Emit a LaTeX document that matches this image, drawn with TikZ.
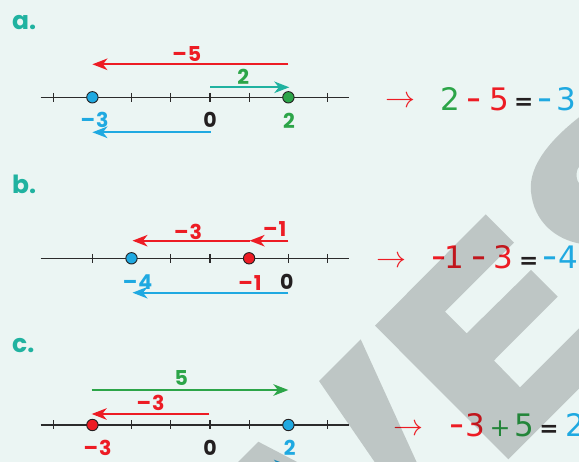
\documentclass[tikz,border=0pt]{standalone}
\usepackage{fontspec}
\usetikzlibrary{arrows.meta}
\newfontfamily\lblfont{Poppins}
\newfontfamily\eqfont{DejaVu Sans}
\newcommand\lminus{\scalebox{1.3}[1.05]{-}}
\newcommand\eminus{\scalebox{1.35}[1.2]{-}}
\definecolor{bgc}{HTML}{EBF5F3}
\definecolor{cred}{HTML}{ED1C24}
\definecolor{cblue}{HTML}{1FA9E1}
\definecolor{cgreen}{HTML}{2CA548}
\definecolor{cteal}{HTML}{20B2A0}
\definecolor{cblack}{HTML}{231F20}
\definecolor{caxis}{HTML}{2B2B2B}
\begin{document}
\begin{tikzpicture}[x=1pt,y=-1pt,
  axis/.style={draw=caxis,line width=1.5pt},
  tickmark/.style={draw=caxis,line width=1.2pt},
  dot/.style={circle,minimum size=11.4pt,inner sep=0pt,draw=cblack,line width=0.9pt},
  arr/.style={line width=2pt,-{Stealth[length=15pt,width=11.5pt,inset=4.5pt]}},
  lbl/.style={font=\lblfont\bfseries\fontsize{20.5}{22}\selectfont,inner sep=0pt,anchor=center},
  letter/.style={font=\lblfont\bfseries\fontsize{25}{27}\selectfont,text=cteal,inner sep=0pt,anchor=base west},
  eqd/.style={font=\eqfont\fontsize{31}{34}\selectfont,inner sep=0pt,anchor=base},
  eqeq/.style={font=\eqfont\bfseries\fontsize{23}{26}\selectfont,inner sep=0pt,anchor=base,text=cblack},
  eqp/.style={font=\eqfont\fontsize{25}{27}\selectfont,inner sep=0pt,anchor=base},
  imp/.style={text=cred,inner sep=0pt,anchor=center}
]
\useasboundingbox (0,0) rectangle (579,462);
\clip (0,0) rectangle (579,462);
\fill[bgc] (0,0) rectangle (579,462);

% ---------------- a ----------------
\node[letter] (la) at (12,30) {a.};
\coordinate (aL) at (40.7,97.3);
\coordinate (aR) at (349.3,97.3);
\draw[axis] (aL) -- (aR);
\foreach \n in {-4,-2,-1,0,1,3} \draw[tickmark] (210+39.2*\n,92.8) -- ++(0,9);
\node[dot,fill=cblue] (am3) at (92.4,97.3) {};
\node[dot,fill=cgreen] (ap2) at (288.4,97.3) {};
\coordinate (aRs) at (288.4,64.3); \coordinate (aRe) at (92.4,64.3);
\draw[arr,cred] (aRs) -- (aRe);
\coordinate (aTs) at (210,87.3); \coordinate (aTe) at (289.3,87.3);
\draw[arr,cteal] (aTs) -- (aTe);
\coordinate (aBs) at (210.5,132.3); \coordinate (aBe) at (92.4,132.3);
\draw[arr,cblue] (aBs) -- (aBe);
\node[lbl,text=cred] (alm5) at (186.7,54.5) {\lminus5};
\node[lbl,text=cgreen] (al2) at (243.3,77.3) {2};
\node[lbl,text=cblue] (alm3) at (94.5,120) {\lminus3};
\node[lbl,text=cblack] (al0) at (210,120) {0};
\node[lbl,text=cgreen] (alp2) at (289,121) {2};
\node[imp] (aimp) at (400,102.5) {\scalebox{3}{$\rightarrow$}};
\node[eqd,text=cgreen] (ae1) at (450.8,110.3) {2};
\node[eqd,text=cred] (ae2) at (474.2,110.3) {\eminus};
\node[eqd,text=cred] (ae3) at (499.2,110.3) {5};
\node[eqeq] (ae4) at (523.7,109.8) {=};
\node[eqd,text=cblue] (ae5) at (545.3,110.3) {\eminus};
\node[eqd,text=cblue] (ae6) at (566.2,110.3) {3};

% ---------------- b ----------------
\node[letter] (lb) at (12,193.3) {b.};
\coordinate (bL) at (40.7,258.3);
\coordinate (bR) at (349.3,258.3);
\draw[axis] (bL) -- (bR);
\foreach \n in {-5,-3,-2,0,1} \draw[tickmark] (288.3+39.2*\n,253.8) -- ++(0,9);
\node[dot,fill=cblue] (bm4) at (131.5,258.3) {};
\node[dot,fill=cred] (bm1) at (249.1,258.3) {};
\coordinate (bR1s) at (288.3,240.7); \coordinate (bR1e) at (249.6,240.7);
\draw[arr,cred] (bR1s) -- (bR1e);
\coordinate (bR3s) at (250.3,240.7); \coordinate (bR3e) at (132.5,240.7);
\draw[arr,cred] (bR3s) -- (bR3e);
\coordinate (bBs) at (288.3,292.7); \coordinate (bBe) at (132.5,292.7);
\draw[arr,cblue] (bBs) -- (bBe);
\node[lbl,text=cred] (blm3) at (188,232.2) {\lminus3};
\node[lbl,text=cred] (blm1) at (274.7,229.3) {\lminus1};
\node[lbl,text=cblue] (blm4) at (137.5,281.7) {\lminus4};
\node[lbl,text=cred] (blm1b) at (250,282.7) {\lminus1};
\node[lbl,text=cblack] (bl0) at (286.7,282) {0};
\node[imp] (bimp) at (391.3,262) {\scalebox{3}{$\rightarrow$}};
\node[eqd,text=cred] (be1) at (438.7,269) {\eminus};
\node[eqd,text=cred] (be2) at (454.5,269) {1};
\node[eqd,text=cred] (be3) at (479.5,269) {\eminus};
\node[eqd,text=cred] (be4) at (503.5,269) {3};
\node[eqeq] (be5) at (528.8,268.5) {=};
\node[eqd,text=cblue] (be6) at (550,269) {\eminus};
\node[eqd,text=cblue] (be7) at (568.5,269) {4};

% ---------------- c ----------------
\node[letter] (lc) at (12,353) {c.};
\coordinate (cL) at (40.7,425);
\coordinate (cR) at (349.3,425);
\draw[axis] (cL) -- (cR);
\foreach \n in {-4,-2,-1,0,1,3} \draw[tickmark] (210+39.2*\n,420.5) -- ++(0,9);
\node[dot,fill=cred] (cm3) at (92.4,425) {};
\node[dot,fill=cblue] (cp2) at (288.4,425) {};
\coordinate (cGs) at (91.7,390); \coordinate (cGe) at (288.4,390);
\draw[arr,cgreen] (cGs) -- (cGe);
\coordinate (cRs) at (209.3,414); \coordinate (cRe) at (91.7,414);
\draw[arr,cred] (cRs) -- (cRe);
\coordinate (cBs) at (210,465.5); \coordinate (cBe) at (289,465.5);
\draw[arr,cblue] (cBs) -- (cBe);
\node[lbl,text=cgreen] (cl5) at (181.2,377.8) {5};
\node[lbl,text=cred] (clm3) at (150.5,402.8) {\lminus3};
\node[lbl,text=cred] (clm3b) at (97.5,448) {\lminus3};
\node[lbl,text=cblack] (cl0) at (210,448) {0};
\node[lbl,text=cblue] (cl2) at (289.8,448) {2};
\node[imp] (cimp) at (408,429.8) {\scalebox{3}{$\rightarrow$}};
\node[eqd,text=cred] (ce1) at (456.7,437) {\eminus};
\node[eqd,text=cred] (ce2) at (475.8,437) {3};
\node[eqp,text=cgreen] (ce3) at (500,437) {+};
\node[eqd,text=cgreen] (ce4) at (524.2,437) {5};
\node[eqeq] (ce5) at (549,436.5) {=};
\node[eqd,text=cblue] (ce6) at (575,437) {2};

% ---------------- watermark ----------------
\begin{scope}[fill=black,fill opacity=0.19]
  % Y
  \fill (319,381) -- (360.7,339.3) -- (417.5,464) -- (376,464) -- cycle;
  \fill (258.3,441.7) -- (236,464) -- (301,464) -- cycle;
  % E
  \fill (375,325.7) -- (485.7,214.3) -- (514,242.7) -- (445,311.7) -- (466.7,333.3)
        -- (531,270) -- (557.7,296.7) -- (494,360.5) -- (520,387.3) -- (600,307.3)
        -- (600,367.6) -- (508.3,459.3) -- cycle;
  % S
  \fill[even odd rule] (582,115) .. controls (552,138) and (528,165) .. (531,192)
        .. controls (534,222) and (556,240) .. (582,244) -- cycle
        (581,175) ellipse [x radius=4.5, y radius=9];
\end{scope}
\end{tikzpicture}
\end{document}
